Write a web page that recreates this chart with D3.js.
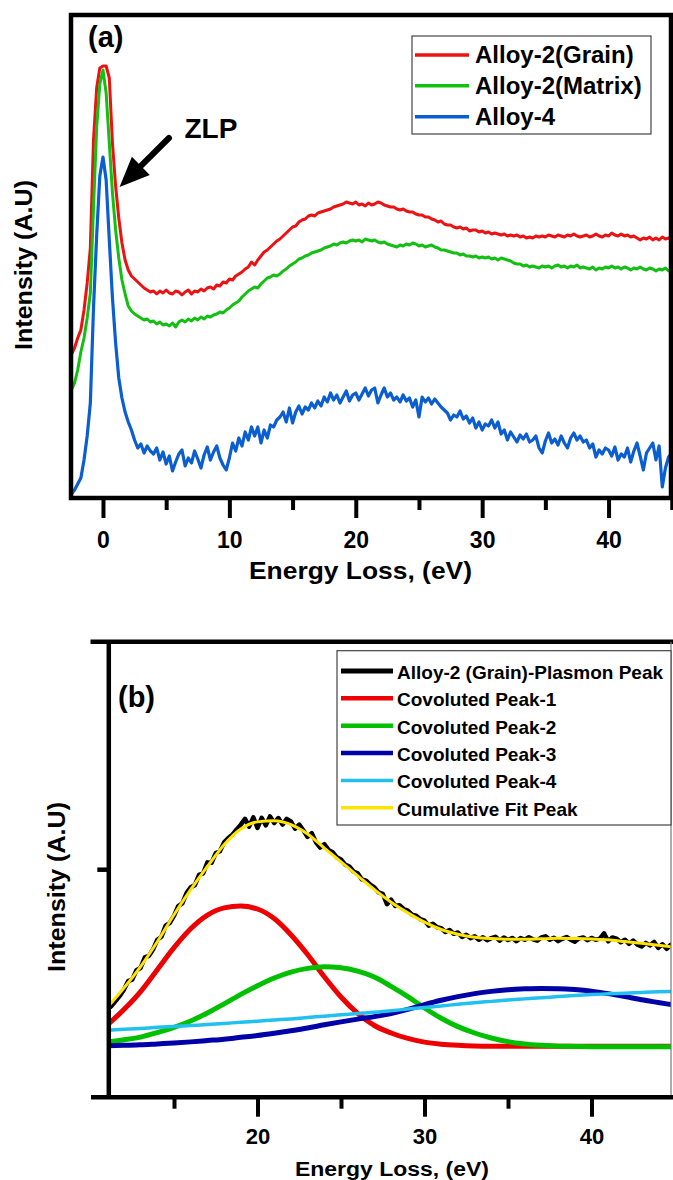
<!DOCTYPE html>
<html>
<head>
<meta charset="utf-8">
<script src="https://cdn.jsdelivr.net/npm/d3@7"></script>
<style>
  html, body { margin: 0; padding: 0; background: #fff; }
  svg { display: block; }
</style>
</head>
<body>
<svg id="chart" width="673" height="1180"></svg>
<script>
// ---------- Panel (a): low-loss EELS spectra ----------
// Spectra sampled on a uniform energy grid starting at -2.5 eV, 0.25 eV per channel.
const energyStartA = -2.5;
const energyStepA = 0.25;

const alloy2Grain = [
  143, 150,
  160, 168, 188, 215,
  250, 358, 410, 430,
  432, 432, 420, 355,
  312, 280, 255, 238,
  228, 222, 219, 216,
  213, 210, 208, 206,
  207, 204, 207, 205,
  208, 205, 204, 207,
  206, 203, 206, 208,
  204, 207, 206, 209,
  207, 210, 211, 209,
  213, 212, 216, 215,
  219, 218, 222, 224,
  226, 229, 231, 236,
  233, 238, 242, 246,
  248, 251, 254, 257,
  259, 262, 265, 268,
  271, 272, 276, 278,
  279, 282, 283, 282,
  285, 286, 287, 288,
  289, 291, 292, 293,
  294, 296, 295, 294,
  296, 293, 294, 292,
  295, 293, 294, 296,
  295, 293, 292, 291,
  291, 289, 288, 289,
  287, 286, 286, 284,
  283, 283, 281, 281,
  279, 278, 276, 277,
  274, 273, 273, 271,
  270, 271, 269, 270,
  267, 268, 268, 266,
  267, 265, 266, 264,
  265, 264, 263, 264,
  262, 263, 262, 263,
  261, 262, 260, 261,
  260, 262, 261, 262,
  261, 263, 262, 261,
  263, 262, 261, 263,
  262, 264, 262, 261,
  262, 263, 261, 262,
  264, 262, 261, 263,
  262, 265, 263, 262,
  264, 262, 263, 261,
  262, 260, 258, 260,
  259, 261, 258, 260,
  258, 261, 259, 260,
  258
];

const alloy2Matrix = [
  108, 115,
  128, 146, 160, 180,
  205, 290, 370, 414,
  428, 405, 355, 305,
  268, 240, 218, 204,
  192, 187, 184, 182,
  180, 178, 179, 176,
  177, 174, 176, 173,
  174, 172, 175, 171,
  176, 178, 176, 179,
  177, 180, 178, 181,
  179, 182, 181, 183,
  184, 186, 185, 188,
  190, 193, 195, 197,
  201, 204, 207, 209,
  211, 210, 214, 217,
  220, 221, 223, 222,
  224, 227, 229, 232,
  234, 236, 239, 240,
  242, 243, 245, 246,
  247, 248, 250, 251,
  252, 254, 253, 255,
  256, 255, 257, 258,
  257, 258, 256, 259,
  258, 257, 258, 256,
  255, 256, 254, 253,
  252, 251, 253, 252,
  254, 253, 255, 254,
  252, 253, 251, 252,
  253, 251, 250, 248,
  248, 247, 246, 245,
  245, 243, 244, 242,
  242, 241, 242, 240,
  241, 240, 241, 239,
  240, 238, 240, 239,
  238, 237, 235, 234,
  234, 232, 233, 231,
  232, 231, 230, 232,
  231, 232, 230, 232,
  233, 231, 232, 230,
  232, 231, 233, 230,
  231, 230, 229, 231,
  228, 230, 229, 231,
  230, 232, 230, 231,
  229, 231, 230, 228,
  230, 229, 231, 229,
  228, 230, 229, 227,
  229, 228, 230, 227,
  228
];

const alloy4 = [
  4, 8,
  14, 20, 38, 62,
  95, 190, 262, 322,
  341, 318, 258, 200,
  155, 120, 100, 86,
  76, 68, 58, 50,
  54, 45, 52, 47,
  44, 50, 38, 46,
  34, 42, 27, 36,
  44, 48, 32, 40,
  35, 47, 39, 30,
  43, 51, 38, 46,
  52, 40, 33, 28,
  40, 55, 47, 60,
  52, 66, 58, 71,
  62, 71, 55, 68,
  60, 73, 71, 78,
  81, 86, 76, 90,
  75, 86, 92, 84,
  91, 88, 95, 90,
  97, 92, 101, 96,
  105, 98, 103, 95,
  101, 107, 97, 103,
  105, 98, 104, 110,
  102, 108, 110, 95,
  103, 110, 101, 105,
  98, 101, 96, 103,
  97, 100, 91, 98,
  81, 101, 96, 100,
  94, 99, 95, 91,
  88, 85, 78, 83,
  81, 87, 79, 82,
  75, 80, 70, 76,
  68, 74, 72, 78,
  70, 76, 64, 68,
  58, 66, 61, 56,
  63, 59, 64, 56,
  58, 62, 50, 45,
  57, 65, 55, 59,
  53, 62, 55, 50,
  60, 65, 58, 62,
  56, 58, 50, 54,
  41, 48, 44, 50,
  48, 42, 51, 38,
  44, 41, 50, 36,
  47, 55, 42, 28,
  45, 50, 55, 38,
  52, 11, 30, 41,
  45
];

const seriesNamesA = ["Alloy-2(Grain)", "Alloy-2(Matrix)", "Alloy-4"];
const seriesColorsA = ["#ee1111", "#11c011", "#0b5ed0"];
const majorTicksA = [0, 10, 20, 30, 40];
const minorTicksA = [5, 15, 25, 35, 45];

// Zero-loss-peak annotation (energy in eV, intensity in panel units)
const zlpLabel = { text: "ZLP", energy: 6.45, intensity: 359.7 };
const zlpArrowTail = { energy: 5.22, intensity: 360 };
const zlpArrowTip = { energy: 1.31, intensity: 311 };

// ---------- Panel (b): plasmon peak deconvolution ----------
// Measured plasmon spectrum, 0.25 eV channels starting at 11 eV.
const energyStartB = 11;
const energyStepB = 0.25;

const plasmonPeak = [
  0.385, 0.398, 0.420, 0.443,
  0.470, 0.508, 0.515, 0.556,
  0.566, 0.612, 0.619, 0.648,
  0.690, 0.703, 0.752, 0.764,
  0.795, 0.838, 0.850, 0.895,
  0.921, 0.930, 0.975, 0.982,
  1.030, 1.028, 1.071, 1.079,
  1.118, 1.137, 1.152, 1.175,
  1.196, 1.221, 1.187, 1.228,
  1.181, 1.226, 1.193, 1.232,
  1.203, 1.225, 1.196, 1.221,
  1.210, 1.178, 1.196, 1.170,
  1.142, 1.158, 1.118, 1.095,
  1.110, 1.085, 1.075, 1.052,
  1.043, 1.020, 1.012, 0.990,
  0.982, 0.955, 0.950, 0.932,
  0.920, 0.898, 0.892, 0.846,
  0.866, 0.838, 0.842, 0.825,
  0.818, 0.800, 0.796, 0.780,
  0.774, 0.752, 0.760, 0.745,
  0.741, 0.724, 0.733, 0.716,
  0.722, 0.702, 0.712, 0.697,
  0.705, 0.690, 0.701, 0.688,
  0.697, 0.703, 0.686, 0.700,
  0.689, 0.698, 0.684, 0.697,
  0.690, 0.701, 0.692, 0.686,
  0.700, 0.705, 0.690, 0.699,
  0.684, 0.694, 0.702, 0.690,
  0.681, 0.696, 0.700, 0.688,
  0.698, 0.690, 0.695, 0.718,
  0.683, 0.700, 0.695, 0.679,
  0.690, 0.672, 0.686, 0.668,
  0.660, 0.676, 0.665, 0.680,
  0.654, 0.670, 0.650, 0.668,
  0.660
];

// Fitted components, evaluated every 1 eV
const fitEnergies = [11, 12, 13, 14, 15, 16, 17, 18, 19, 20, 21, 22, 23, 24, 25, 26, 27, 28,
  29, 30, 31, 32, 33, 34, 35, 36, 37, 38, 39, 40, 41, 42, 43, 44, 45];
const peak1 = [0.315, 0.383, 0.462, 0.558, 0.655, 0.738, 0.798, 0.830, 0.838, 0.825, 0.783, 0.712,
  0.625, 0.527, 0.438, 0.366, 0.313, 0.280, 0.256, 0.240, 0.231, 0.226, 0.223, 0.222, 0.222,
  0.222, 0.222, 0.222, 0.222, 0.222, 0.222, 0.222, 0.222, 0.222, 0.222];
const peak2 = [0.240, 0.250, 0.262, 0.282, 0.305, 0.333, 0.368, 0.408, 0.450, 0.488, 0.522, 0.548,
  0.564, 0.571, 0.567, 0.552, 0.526, 0.485, 0.440, 0.390, 0.345, 0.308, 0.280, 0.258, 0.242,
  0.232, 0.226, 0.222, 0.221, 0.220, 0.220, 0.220, 0.220, 0.220, 0.220];
const peak3 = [0.224, 0.226, 0.228, 0.232, 0.236, 0.241, 0.247, 0.253, 0.261, 0.269, 0.279, 0.290,
  0.302, 0.316, 0.329, 0.341, 0.352, 0.366, 0.384, 0.405, 0.424, 0.440, 0.453, 0.463, 0.470,
  0.474, 0.476, 0.475, 0.471, 0.464, 0.453, 0.440, 0.426, 0.414, 0.402];
const peak4 = [0.292, 0.296, 0.300, 0.305, 0.309, 0.313, 0.317, 0.322, 0.327, 0.332, 0.337, 0.342,
  0.348, 0.354, 0.360, 0.366, 0.371, 0.378, 0.385, 0.392, 0.399, 0.406, 0.413, 0.419, 0.425,
  0.430, 0.435, 0.440, 0.445, 0.449, 0.452, 0.455, 0.458, 0.461, 0.463];
const cumulativeFit = [0.392, 0.478, 0.572, 0.681, 0.800, 0.910, 1.012, 1.108, 1.177, 1.208, 1.213,
  1.196, 1.155, 1.093, 1.032, 0.971, 0.910, 0.855, 0.808, 0.767, 0.735, 0.714, 0.701, 0.695,
  0.692, 0.692, 0.694, 0.696, 0.695, 0.693, 0.690, 0.682, 0.674, 0.666, 0.657];

const seriesNamesB = ["Alloy-2 (Grain)-Plasmon Peak", "Covoluted Peak-1", "Covoluted Peak-2",
  "Covoluted Peak-3", "Covoluted Peak-4", "Cumulative Fit Peak"];
const seriesColorsB = ["#000000", "#ee0000", "#00c000", "#0000a8", "#22c0ee", "#ffe400"];
const majorTicksB = [20, 30, 40];
const minorTicksB = [15, 25, 35, 45];
const yTicksB = [1];

// ---------- drawing ----------
const FONT = '"Liberation Sans", Arial, Helvetica, sans-serif';
const svg = d3.select("#chart");
const defs = svg.append("defs");

function gridPoints(start, step, values) {
  return values.map((v, i) => [start + i * step, v]);
}
function pairPoints(xs, ys) {
  return ys.map((v, i) => [xs[i], v]);
}
function boldText(g, x, y, str, size) {
  return g.append("text")
    .attr("x", x).attr("y", y)
    .attr("font-family", FONT).attr("font-weight", "bold")
    .attr("font-size", size).attr("fill", "#000")
    .text(str);
}

// ===== Panel (a) =====
const A = { left: 71, right: 671, top: 15, bottom: 498 };
const xA = d3.scaleLinear().domain([-2.53, 44.94]).range([A.left, A.right]);
const yA = d3.scaleLinear().domain([0, 483]).range([A.bottom, A.top]);
const gA = svg.append("g");

defs.append("clipPath").attr("id", "clipA").append("rect")
  .attr("x", A.left).attr("y", A.top)
  .attr("width", A.right - A.left).attr("height", A.bottom - A.top);

const lineA = d3.line().x(d => xA(d[0])).y(d => yA(d[1]));
const spectraA = [alloy2Grain, alloy2Matrix, alloy4];
const curvesA = gA.append("g").attr("clip-path", "url(#clipA)");
spectraA.forEach((vals, i) => {
  curvesA.append("path")
    .datum(gridPoints(energyStartA, energyStepA, vals))
    .attr("d", lineA)
    .attr("fill", "none")
    .attr("stroke", seriesColorsA[i])
    .attr("stroke-width", i === 2 ? 3.2 : 3)
    .attr("stroke-linejoin", "round");
});

// frame
gA.append("rect")
  .attr("x", A.left).attr("y", A.top)
  .attr("width", A.right - A.left).attr("height", A.bottom - A.top)
  .attr("fill", "none").attr("stroke", "#000").attr("stroke-width", 4.5);

// bottom axis: major + minor ticks
function styleAxis(g, width) {
  g.attr("font-family", null).attr("font-size", null);
  g.select(".domain").remove();
  g.selectAll(".tick line").attr("stroke", "#000").attr("stroke-width", width);
}
gA.append("g")
  .attr("transform", `translate(0,${A.bottom})`)
  .call(d3.axisBottom(xA).tickValues(majorTicksA).tickSize(20).tickFormat(d3.format("d")))
  .call(g => styleAxis(g, 4))
  .call(g => g.selectAll(".tick text")
    .attr("y", 50).attr("dy", null)
    .attr("font-family", FONT).attr("font-weight", "bold")
    .attr("font-size", 23).attr("fill", "#000"));
gA.append("g")
  .attr("transform", `translate(0,${A.bottom})`)
  .call(d3.axisBottom(xA).tickValues(minorTicksA).tickSize(12).tickFormat(""))
  .call(g => styleAxis(g, 4));

// axis titles
boldText(gA, 360.5, 579.3, "Energy Loss, (eV)", 24)
  .attr("text-anchor", "middle")
  .attr("textLength", 223).attr("lengthAdjust", "spacingAndGlyphs");
boldText(gA, 0, 0, "Intensity (A.U)", 24)
  .attr("text-anchor", "middle")
  .attr("transform", "translate(32,265) rotate(-90)")
  .attr("textLength", 170).attr("lengthAdjust", "spacingAndGlyphs");

// panel tag
boldText(gA, 88, 46.5, "(a)", 29);

// legend
const legA = gA.append("g");
legA.append("rect")
  .attr("x", 412).attr("y", 36).attr("width", 239).attr("height", 98)
  .attr("fill", "#fff").attr("stroke", "#444").attr("stroke-width", 1.2);
seriesNamesA.forEach((name, i) => {
  const yRow = 55 + i * 30.85;
  legA.append("line")
    .attr("x1", 415).attr("x2", 469).attr("y1", yRow).attr("y2", yRow)
    .attr("stroke", seriesColorsA[i]).attr("stroke-width", 3.5);
  boldText(legA, 475, yRow + 8.4, name, 24);
});

// ZLP annotation
boldText(gA, xA(zlpLabel.energy), yA(zlpLabel.intensity), zlpLabel.text, 28);
(function drawArrow() {
  const x0 = xA(zlpArrowTail.energy), y0 = yA(zlpArrowTail.intensity);
  const x1 = xA(zlpArrowTip.energy), y1 = yA(zlpArrowTip.intensity);
  const len = Math.hypot(x1 - x0, y1 - y0);
  const ux = (x1 - x0) / len, uy = (y1 - y0) / len;
  const headLen = 30, headHalf = 12.7;
  const bx = x1 - ux * headLen, by = y1 - uy * headLen;
  gA.append("line")
    .attr("x1", x0).attr("y1", y0).attr("x2", bx + ux * 2).attr("y2", by + uy * 2)
    .attr("stroke", "#000").attr("stroke-width", 6).attr("stroke-linecap", "round");
  gA.append("path")
    .attr("d", `M${x1},${y1} L${bx - uy * headHalf},${by + ux * headHalf} L${bx + uy * headHalf},${by - ux * headHalf} Z`)
    .attr("fill", "#000");
})();

// ===== Panel (b) =====
const B = { left: 108.3, right: 671, top: 641.7, bottom: 1096.7 };
const xB = d3.scaleLinear().domain([10, 45]).range([90.5, 675]);
const yB = d3.scaleLinear().domain([0, 2]).range([B.bottom, B.top]);
const gB = svg.append("g");

defs.append("clipPath").attr("id", "clipB").append("rect")
  .attr("x", B.left).attr("y", B.top)
  .attr("width", B.right - B.left).attr("height", B.bottom - B.top);

const curvesB = gB.append("g").attr("clip-path", "url(#clipB)");
const lineRaw = d3.line().x(d => xB(d[0])).y(d => yB(d[1]));
const lineSmooth = d3.line().x(d => xB(d[0])).y(d => yB(d[1])).curve(d3.curveMonotoneX);

curvesB.append("path")
  .datum(gridPoints(energyStartB, energyStepB, plasmonPeak))
  .attr("d", lineRaw)
  .attr("fill", "none").attr("stroke", seriesColorsB[0])
  .attr("stroke-width", 4.5).attr("stroke-linejoin", "round");

const componentsB = [peak1, peak2, peak3, peak4, cumulativeFit];
const componentWidths = [5, 5, 5, 3.5, 3];
componentsB.forEach((vals, i) => {
  curvesB.append("path")
    .datum(pairPoints(fitEnergies, vals))
    .attr("d", lineSmooth)
    .attr("fill", "none").attr("stroke", seriesColorsB[i + 1])
    .attr("stroke-width", componentWidths[i]).attr("stroke-linejoin", "round");
});

// frame lines: top border, thin right border
gB.append("line")
  .attr("x1", xB(10)).attr("x2", 673).attr("y1", B.top).attr("y2", B.top)
  .attr("stroke", "#000").attr("stroke-width", 4.5);
gB.append("line")
  .attr("x1", B.right).attr("x2", B.right).attr("y1", B.top).attr("y2", B.bottom)
  .attr("stroke", "#777").attr("stroke-width", 1.2);

// left axis
gB.append("g")
  .attr("transform", `translate(${B.left},0)`)
  .call(d3.axisLeft(yB).tickValues(yTicksB).tickSize(11).tickSizeOuter(0).tickFormat(""))
  .call(g => {
    g.attr("font-family", null).attr("font-size", null);
    g.select(".domain").attr("stroke", "#000").attr("stroke-width", 4.5);
    g.selectAll(".tick line").attr("stroke", "#000").attr("stroke-width", 4.5);
  });

// bottom axis
gB.append("g")
  .attr("transform", `translate(0,${B.bottom})`)
  .call(d3.axisBottom(xB).tickValues(majorTicksB).tickSize(20).tickSizeOuter(0).tickFormat(d3.format("d")))
  .call(g => {
    g.attr("font-family", null).attr("font-size", null);
    g.select(".domain").attr("stroke", "#000").attr("stroke-width", 4.5);
    g.selectAll(".tick line").attr("stroke", "#000").attr("stroke-width", 4);
    g.selectAll(".tick text")
      .attr("y", 47.5).attr("dy", null)
      .attr("font-family", FONT).attr("font-weight", "bold")
      .attr("font-size", 22).attr("fill", "#000");
  });
gB.append("g")
  .attr("transform", `translate(0,${B.bottom})`)
  .call(d3.axisBottom(xB).tickValues(minorTicksB).tickSize(12).tickFormat(""))
  .call(g => styleAxis(g, 4));

// axis titles
boldText(gB, 392, 1176, "Energy Loss, (eV)", 20)
  .attr("text-anchor", "middle")
  .attr("textLength", 194).attr("lengthAdjust", "spacingAndGlyphs");
boldText(gB, 0, 0, "Intensity (A.U)", 24)
  .attr("text-anchor", "middle")
  .attr("transform", "translate(65,887) rotate(-90)")
  .attr("textLength", 170).attr("lengthAdjust", "spacingAndGlyphs");

// panel tag
boldText(gB, 118, 707, "(b)", 29);

// legend
const legB = gB.append("g");
legB.append("rect")
  .attr("x", 337).attr("y", 650.7).attr("width", 334).attr("height", 174.3)
  .attr("fill", "#fff").attr("stroke", "#444").attr("stroke-width", 1.2);
const legendWidthsB = [5, 4.5, 4.5, 4.5, 3.5, 3.5];
seriesNamesB.forEach((name, i) => {
  const yRow = 671 + i * 27.35;
  legB.append("line")
    .attr("x1", 341).attr("x2", 393).attr("y1", yRow).attr("y2", yRow)
    .attr("stroke", seriesColorsB[i]).attr("stroke-width", legendWidthsB[i]);
  boldText(legB, 397, yRow + 7.8, name, 19);
});
</script>
</body>
</html>
